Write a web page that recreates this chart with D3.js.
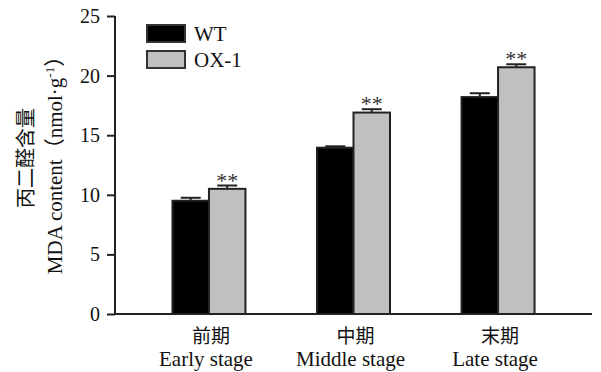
<!DOCTYPE html>
<html>
<head>
<meta charset="utf-8">
<script src="https://cdn.jsdelivr.net/npm/d3@7"></script>
<style>
  body { margin: 0; background: #fff; }
  svg text { font-family: "Liberation Serif", "Times New Roman", serif; fill: #111; }
  .cjk { font-family: "Noto Sans CJK SC", sans-serif; fill: #111; }
</style>
</head>
<body>
<svg id="chart" width="601" height="372"></svg>
<script>
// data
const stages = ['Early stage', 'Middle stage', 'Late stage'];
const stagesCN = ['前期', '中期', '末期'];
const seriesNames = ['WT', 'OX-1'];
const wtValues = [9.5, 13.95, 18.2];
const wtErrors = [0.25, 0.12, 0.32];
const oxValues = [10.5, 16.9, 20.7];
const oxErrors = [0.28, 0.28, 0.25];
const oxMarks = ['**', '**', '**'];
const yTicks = [0, 5, 10, 15, 20, 25];

const colors = { 'WT': '#000000', 'OX-1': '#c0c0c0' };

const svg = d3.select('#chart');
const DIM = { left: 115, right: 592, top: 16, bottom: 314 };

const x = d3.scalePoint()
    .domain(stages)
    .range([DIM.left, DIM.right])
    .padding(0.65);
const xInner = d3.scaleBand()
    .domain(seriesNames)
    .range([-36.5, 36.5]);
const y = d3.scaleLinear()
    .domain([0, 25])
    .range([DIM.bottom, DIM.top]);

// flatten into bar records
const bars = [];
stages.forEach((s, i) => {
    bars.push({ stage: s, series: 'WT', value: wtValues[i], err: wtErrors[i], mark: '' });
    bars.push({ stage: s, series: 'OX-1', value: oxValues[i], err: oxErrors[i], mark: oxMarks[i] });
});

// error bars (upper only)
const errG = svg.append('g').attr('stroke', '#222').attr('stroke-width', 2);
bars.forEach(d => {
    const cx = x(d.stage) + xInner(d.series) + xInner.bandwidth() / 2;
    errG.append('line')
        .attr('x1', cx).attr('x2', cx)
        .attr('y1', y(d.value)).attr('y2', y(d.value + d.err));
    errG.append('line')
        .attr('x1', cx - 10).attr('x2', cx + 10)
        .attr('y1', y(d.value + d.err)).attr('y2', y(d.value + d.err));
});

svg.append('g').selectAll('rect')
    .data(bars)
    .join('rect')
    .attr('x', d => x(d.stage) + xInner(d.series))
    .attr('y', d => y(d.value))
    .attr('width', xInner.bandwidth())
    .attr('height', d => y(0) - y(d.value))
    .attr('fill', d => colors[d.series])
    .attr('stroke', '#222')
    .attr('stroke-width', 2);

// significance stars
svg.append('g').selectAll('text')
    .data(bars.filter(d => d.mark))
    .join('text')
    .attr('x', d => x(d.stage) + xInner(d.series) + xInner.bandwidth() / 2)
    .attr('y', d => y(d.value + d.err) + 2)
    .attr('text-anchor', 'middle')
    .style('font-size', '22px')
    .style('fill', '#333')
    .text(d => d.mark);

// y axis
const yAxis = svg.append('g')
    .attr('transform', `translate(${DIM.left},0)`)
    .call(d3.axisLeft(y).tickValues(yTicks).tickSize(8).tickPadding(7));
yAxis.select('.domain').attr('stroke', '#222').attr('stroke-width', 2).attr('d', `M0,${DIM.top}V${DIM.bottom}`);
yAxis.selectAll('.tick line').attr('stroke', '#222').attr('stroke-width', 2);
yAxis.selectAll('.tick text').style('font-size', '20px').attr('fill', '#111');

// x axis line
svg.append('line')
    .attr('x1', DIM.left).attr('x2', DIM.right)
    .attr('y1', y(0)).attr('y2', y(0))
    .attr('stroke', '#222').attr('stroke-width', 2);

// x labels
const xl = svg.append('g');
stages.forEach((s, i) => {
    xl.append('text')
        .attr('class', 'cjk')
        .attr('x', x(s) + 2).attr('y', 343)
        .attr('text-anchor', 'middle')
        .style('font-size', '19px')
        .text(stagesCN[i]);
    xl.append('text')
        .attr('x', x(s) - 3).attr('y', 366)
        .attr('text-anchor', 'middle')
        .style('font-size', '21px')
        .text(s);
});

// y label
svg.append('text')
    .attr('class', 'cjk')
    .attr('transform', 'translate(33,158) rotate(-90)')
    .attr('text-anchor', 'middle')
    .style('font-size', '20px')
    .text('丙二醛含量');
const yl2 = svg.append('text')
    .attr('transform', 'translate(62,160) rotate(-90)')
    .attr('text-anchor', 'middle')
    .style('font-size', '21px');
yl2.append('tspan').text('MDA content');
yl2.append('tspan').attr('class', 'cjk').text('（');
yl2.append('tspan').text('nmol·g');
yl2.append('tspan').attr('dy', -8).style('font-size', '13px').text('-1');
yl2.append('tspan').attr('dy', 8).attr('class', 'cjk').text('）');

// legend
const legend = svg.append('g').attr('transform', 'translate(147,25)');
seriesNames.forEach((n, i) => {
    legend.append('rect')
        .attr('x', 0).attr('y', i * 26)
        .attr('width', 38).attr('height', 17)
        .attr('fill', colors[n])
        .attr('stroke', '#333').attr('stroke-width', 2);
    legend.append('text')
        .attr('x', 47).attr('y', i * 26 + 16)
        .style('font-size', '21px')
        .text(n);
});
</script>
</body>
</html>
